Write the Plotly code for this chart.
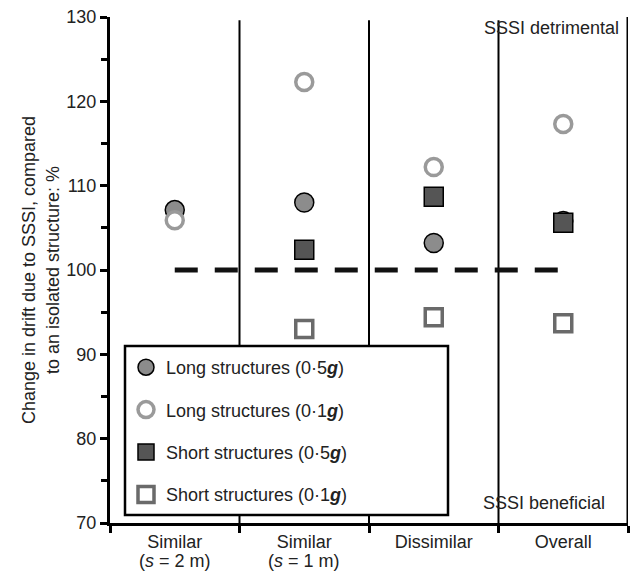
import plotly.graph_objects as go

categories = ["Similar", "Similar", "Dissimilar", "Overall"]
sub_labels = ["(<i>s</i> = 2 m)", "(<i>s</i> = 1 m)", "", ""]
long_05g = [107.1, 108.0, 103.2, 105.8]
long_01g = [105.9, 122.3, 112.2, 117.3]
short_05g = [None, 102.4, 108.7, 105.6]
short_01g = [None, 93.0, 94.4, 93.7]
series_names = ["Long structures (0·5<b><i>g</i></b>)", "Long structures (0·1<b><i>g</i></b>)",
                "Short structures (0·5<b><i>g</i></b>)", "Short structures (0·1<b><i>g</i></b>)"]
baseline = 100

FONT = "Arial, Liberation Sans, sans-serif"
TXT = "#222222"
FS = 18
xs = list(range(len(categories)))

fig = go.Figure()
# dashed baseline
fig.add_trace(go.Scatter(x=[xs[0], xs[-1]], y=[baseline, baseline], mode="lines",
                         line=dict(color="#111111", width=5, dash="23px,17px"),
                         showlegend=False, hoverinfo="skip"))

styles = [
    dict(symbol="circle", size=19, color="#8c8c8c", line=dict(color="black", width=1.5)),
    dict(symbol="circle", size=17, color="white", line=dict(color="#9a9a9a", width=3.5)),
    dict(symbol="square", size=19, color="#555555", line=dict(color="black", width=1.5)),
    dict(symbol="square", size=17, color="white", line=dict(color="#6a6a6a", width=3.5)),
]
data = [long_05g, long_01g, short_05g, short_01g]
for i, (vals, name, st) in enumerate(zip(data, series_names, styles)):
    xv = [x for x, v in zip(xs, vals) if v is not None]
    yv = [v for v in vals if v is not None]
    fig.add_trace(go.Scatter(x=xv, y=yv, mode="markers", name=name, marker=st,
                             legendgroup=f"g{i}", showlegend=True))

shapes = []
for b in [0.5, 1.5, 2.5]:
    shapes.append(dict(type="line", xref="x", yref="y", x0=b, x1=b, y0=70, y1=129.6,
                       line=dict(color="black", width=2), layer="below"))
shapes.append(dict(type="line", xref="x", yref="y", x0=3.5, x1=3.5, y0=70, y1=130,
                   line=dict(color="black", width=3), layer="below"))
# legend box
shapes.append(dict(type="rect", xref="paper", yref="paper",
                   x0=(125 - 110) / 518, x1=(448 - 110) / 518,
                   y0=(523 - 515) / 506, y1=(523 - 346) / 506,
                   fillcolor="white", line=dict(color="black", width=2.5), layer="above"))

annotations = [
    dict(text="SSSI detrimental", xref="paper", yref="paper", x=(621 - 110) / 518, y=(523 - 28) / 506,
         xanchor="right", yanchor="middle", showarrow=False, font=dict(size=FS, family=FONT, color=TXT)),
    dict(text="SSSI beneficial", xref="paper", yref="paper", x=(607 - 110) / 518, y=(523 - 503) / 506,
         xanchor="right", yanchor="middle", showarrow=False, font=dict(size=FS, family=FONT, color=TXT)),
]
for x, s in zip(xs, sub_labels):
    if s:
        annotations.append(dict(text=s, xref="x", yref="paper", x=x, y=(523 - 561) / 506,
                                xanchor="center", yanchor="middle", showarrow=False,
                                font=dict(size=FS, family=FONT, color=TXT)))

fig.update_layout(
    width=636, height=571,
    margin=dict(l=110, r=8, t=17, b=48),
    paper_bgcolor="white", plot_bgcolor="white",
    font=dict(family=FONT, color=TXT, size=FS),
    shapes=shapes,
    showlegend=True,
    legend=dict(x=(126 - 110) / 518, y=(523 - 349) / 506, xanchor="left", yanchor="top",
                bgcolor="rgba(0,0,0,0)", borderwidth=0, font=dict(size=FS, family=FONT, color=TXT),
                tracegroupgap=16),
    annotations=annotations,
)
fig.update_xaxes(range=[-0.5, 3.5], tickvals=xs, ticktext=categories, ticks="", automargin=False,
                 showline=True, linecolor="black", linewidth=3, showgrid=False, zeroline=False,
                 tickfont=dict(size=FS, family=FONT, color=TXT),
                 minor=dict(tick0=-0.5, dtick=1, ticks="outside", ticklen=7, tickwidth=3, tickcolor="black"))
fig.update_yaxes(range=[70, 130], dtick=10, ticks="outside", ticklen=7, tickwidth=3, tickcolor="black",
                 showline=True, linecolor="black", linewidth=3, showgrid=False, zeroline=False,
                 automargin=False,
                 tickfont=dict(size=FS, family=FONT, color=TXT),
                 minor=dict(dtick=5, ticks="outside", ticklen=6, tickwidth=2.5, tickcolor="black"),
                 title=dict(text="Change in drift due to SSSI, compared<br>to an isolated structure: %",
                            font=dict(size=FS, family=FONT, color=TXT), standoff=3))

fig.write_html("out.html")
